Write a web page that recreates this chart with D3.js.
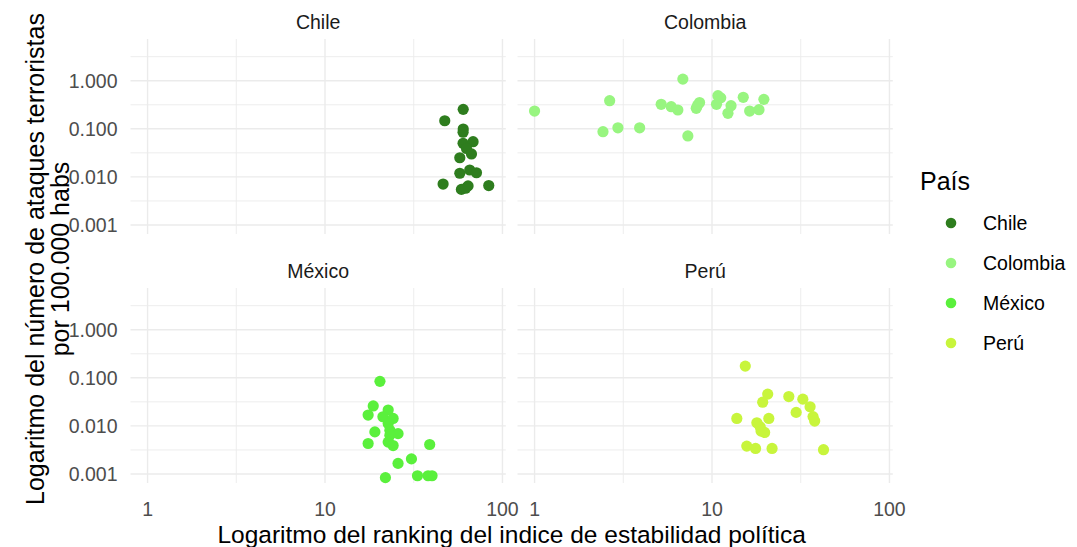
<!DOCTYPE html>
<html>
<head>
<meta charset="utf-8">
<script src="https://cdn.jsdelivr.net/npm/d3@7"></script>
<style>
  html, body { margin: 0; padding: 0; background: #ffffff; }
  svg { display: block; font-family: "Liberation Sans", Arial, sans-serif; }
</style>
</head>
<body>
<script>
// ---------------- data ----------------
const countries = ["Chile", "Colombia", "México", "Perú"];
const countryColors = ["#2e7d1e", "#98f580", "#5af03c", "#c8f53c"];

const chileX = [60.1, 47.3, 60.1, 60.0, 60.0, 68.3, 62.7, 66.9, 57.5, 57.5, 65.4, 71.4, 46.3, 58.7, 64.0, 83.7, 62.0];
const chileY = [0.254, 0.147, 0.099, 0.085, 0.050, 0.054, 0.039, 0.030, 0.025, 0.0119, 0.0139, 0.0122, 0.0071, 0.0055, 0.0065, 0.0066, 0.0058];

const colombiaX = [1.0, 2.65, 2.43, 2.95, 3.91, 6.85, 5.17, 5.89, 6.42, 7.31, 8.15, 8.51, 8.3, 10.8, 11.2, 10.6, 12.8, 12.3, 15.0, 16.3, 18.4, 19.6];
const colombiaY = [0.234, 0.384, 0.087, 0.105, 0.105, 1.08, 0.323, 0.288, 0.246, 0.071, 0.267, 0.352, 0.31, 0.488, 0.44, 0.323, 0.302, 0.21, 0.452, 0.234, 0.25, 0.41];

const mexicoX = [20.4, 18.7, 17.5, 22.7, 21.2, 24.2, 22.7, 19.1, 23.2, 25.8, 17.5, 22.7, 24.2, 38.9, 25.8, 30.7, 21.9, 33.2, 38.1, 40.1, 23.2];
const mexicoY = [0.0844, 0.026, 0.0168, 0.0214, 0.0155, 0.0143, 0.0112, 0.0075, 0.0081, 0.0069, 0.0043, 0.0046, 0.0039, 0.0041, 0.00166, 0.00206, 0.00084, 0.00092, 0.00092, 0.00092, 0.0064];

const peruX = [15.4, 20.6, 19.3, 27.1, 32.5, 35.7, 29.8, 37.1, 37.9, 13.8, 20.9, 17.9, 18.7, 19.8, 18.9, 15.7, 17.6, 21.8, 42.5];
const peruY = [0.175, 0.0458, 0.0311, 0.0408, 0.036, 0.025, 0.0191, 0.0156, 0.0126, 0.0143, 0.0143, 0.0116, 0.0095, 0.0073, 0.0078, 0.0038, 0.0034, 0.0034, 0.0032];

const xTicks = [1, 10, 100];
const xTickLabels = ["1", "10", "100"];
const yTicks = [1, 0.1, 0.01, 0.001];
const yTickLabels = ["1.000", "0.100", "0.010", "0.001"];
const yLimits = [0.000993, 4.82];

const xTitle = "Logaritmo del ranking del indice de estabilidad política";
const yTitleLines = ["Logaritmo del número de ataques terroristas", "por 100.000 habs"];
const legendTitle = "País";

// ---------------- layout ----------------
const W = 1077, H = 547;
const panelW = 375.3, panelH = 195;
const colLeft = [130.5, 517.5];
const rowTop = [39, 288];

const series = [
  { name: countries[0], xs: chileX, ys: chileY },
  { name: countries[1], xs: colombiaX, ys: colombiaY },
  { name: countries[2], xs: mexicoX, ys: mexicoY },
  { name: countries[3], xs: peruX, ys: peruY }
];
const color = d3.scaleOrdinal().domain(countries).range(countryColors);

// x scale: ggplot-like 5% expansion of log range of all data
const allX = series.flatMap(s => s.xs);
const lx = d3.extent(allX, d => Math.log10(d));
const px = (lx[1] - lx[0]) * 0.05;
const x = d3.scaleLog().domain([Math.pow(10, lx[0] - px), Math.pow(10, lx[1] + px)]).range([0, panelW]);

const ly = yLimits.map(Math.log10);
const py = (ly[1] - ly[0]) * 0.05;
const y = d3.scaleLog().domain([Math.pow(10, ly[0] - py), Math.pow(10, ly[1] + py)]).range([panelH, 0]);

const svg = d3.select("body").append("svg").attr("width", W).attr("height", H);
svg.append("rect").attr("width", W).attr("height", H).attr("fill", "#ffffff");

const gridCol = "#ebebeb";
const xMinor = [Math.sqrt(10), Math.sqrt(10) * 10, Math.sqrt(10) / 10, Math.sqrt(10) * 100];
const yMinor = [Math.sqrt(10), Math.sqrt(10) / 10, Math.sqrt(10) / 100, Math.sqrt(10) / 1000, Math.sqrt(10) / 10000];
const inX = v => x(v) >= 0 && x(v) <= panelW;
const inY = v => y(v) >= 0 && y(v) <= panelH;

series.forEach((s, i) => {
  const col = i % 2, row = Math.floor(i / 2);
  const g = svg.append("g").attr("transform", `translate(${colLeft[col]},${rowTop[row]})`);

  // minor grid
  g.selectAll(".ymin").data(yMinor.filter(inY)).join("line")
    .attr("x1", 0).attr("x2", panelW).attr("y1", d => y(d)).attr("y2", d => y(d))
    .attr("stroke", gridCol).attr("stroke-width", 0.9);
  g.selectAll(".xmin").data(xMinor.filter(inX)).join("line")
    .attr("y1", 0).attr("y2", panelH).attr("x1", d => x(d)).attr("x2", d => x(d))
    .attr("stroke", gridCol).attr("stroke-width", 0.9);
  // major grid
  g.selectAll(".ymaj").data(yTicks.filter(inY)).join("line")
    .attr("x1", 0).attr("x2", panelW).attr("y1", d => y(d)).attr("y2", d => y(d))
    .attr("stroke", gridCol).attr("stroke-width", 1.4);
  g.selectAll(".xmaj").data(xTicks.filter(inX)).join("line")
    .attr("y1", 0).attr("y2", panelH).attr("x1", d => x(d)).attr("x2", d => x(d))
    .attr("stroke", gridCol).attr("stroke-width", 1.4);

  // strip label
  g.append("text").attr("x", panelW / 2).attr("y", -10).attr("text-anchor", "middle")
    .attr("font-size", 19.5).attr("fill", "#1a1a1a").text(s.name);

  // points
  const pts = s.xs.map((v, k) => [v, s.ys[k]]);
  g.selectAll("circle").data(pts).join("circle")
    .attr("cx", d => x(d[0])).attr("cy", d => y(d[1])).attr("r", 5.6)
    .attr("fill", color(s.name));

  // y axis labels on left column
  if (col === 0) {
    g.selectAll(".yl").data(yTicks).join("text")
      .attr("x", -13).attr("y", d => y(d) + 7).attr("text-anchor", "end")
      .attr("font-size", 19.5).attr("fill", "#4d4d4d")
      .text((d, k) => yTickLabels[k]);
  }
  // x axis labels on bottom row
  if (row === 1) {
    g.selectAll(".xl").data(xTicks).join("text")
      .attr("x", d => x(d)).attr("y", panelH + 33).attr("text-anchor", "middle")
      .attr("font-size", 19.5).attr("fill", "#4d4d4d")
      .text((d, k) => xTickLabels[k]);
  }
});

// axis titles
svg.append("text").attr("x", (colLeft[0] + colLeft[1] + panelW) / 2).attr("y", 543)
  .attr("text-anchor", "middle").attr("font-size", 24.5).attr("fill", "#000").text(xTitle);

const yc = (rowTop[0] + rowTop[1] + panelH) / 2 - 2;
yTitleLines.forEach((t, k) => {
  svg.append("text").attr("transform", `translate(${44 + k * 25},${yc}) rotate(-90)`)
    .attr("text-anchor", "middle").attr("font-size", 25).attr("fill", "#000").text(t);
});

// legend
const lg = svg.append("g").attr("transform", "translate(920,0)");
lg.append("text").attr("x", 0).attr("y", 190).attr("font-size", 25).attr("fill", "#000").text(legendTitle);
countries.forEach((c, k) => {
  lg.append("circle").attr("cx", 31).attr("cy", 223 + k * 40).attr("r", 5.3).attr("fill", color(c));
  lg.append("text").attr("x", 63).attr("y", 223 + k * 40 + 7).attr("font-size", 19.5).attr("fill", "#000").text(c);
});
</script>
</body>
</html>
